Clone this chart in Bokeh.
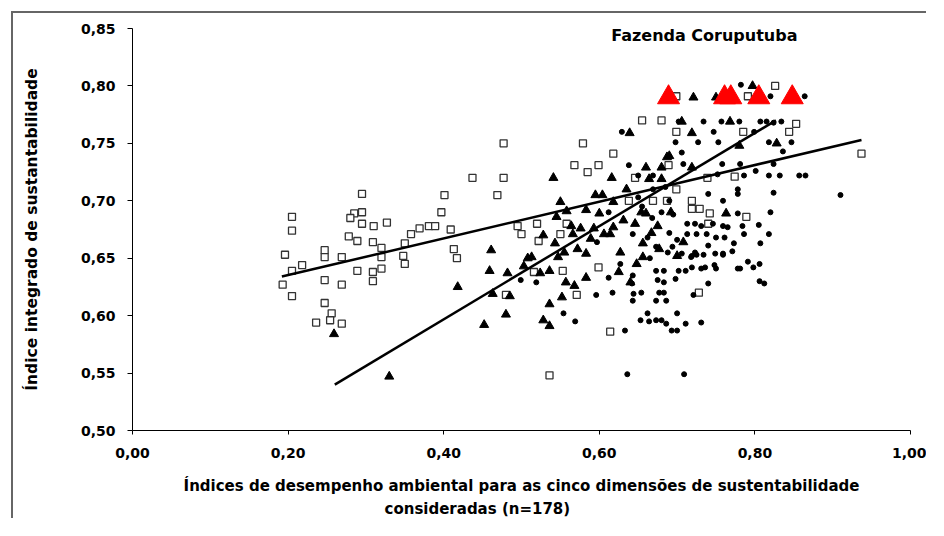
from bokeh.plotting import figure
from bokeh.models import Range1d, FixedTicker, CustomJSTickFormatter, Label, Title
from bokeh.embed import file_html
from bokeh.resources import INLINE

FONT = "DejaVu Sans"

title_text = "Fazenda Coruputuba"
x_label_1 = "Índices de desempenho ambiental para as cinco dimensões de sustentabilidade"
x_label_2 = "consideradas (n=178)"
y_label = "Índice integrado de sustantabilidade"
x_ticks = [0.0, 0.2, 0.4, 0.6, 0.8, 1.0]
y_ticks = [0.50, 0.55, 0.60, 0.65, 0.70, 0.75, 0.80, 0.85]

# open squares
square_x = [0.437, 0.295, 0.401, 0.205, 0.285, 0.295, 0.280, 0.397, 0.205, 0.295, 0.310, 0.327,
            0.278, 0.289, 0.309, 0.320, 0.320, 0.358, 0.369, 0.381, 0.389, 0.409, 0.350, 0.348,
            0.350, 0.413, 0.417, 0.196, 0.218, 0.205, 0.247, 0.247, 0.269, 0.193, 0.205, 0.247,
            0.269, 0.289, 0.309, 0.320, 0.309, 0.247, 0.256, 0.254, 0.236, 0.269,
            0.655, 0.680, 0.477, 0.579, 0.618, 0.477, 0.568, 0.585, 0.599, 0.469, 0.646, 0.638,
            0.669, 0.687, 0.495, 0.520, 0.500, 0.522, 0.558, 0.550,
            0.699, 0.826, 0.791, 0.699, 0.785, 0.853, 0.844, 0.937, 0.689, 0.739, 0.774, 0.699,
            0.719, 0.719, 0.729, 0.742, 0.740, 0.789,
            0.516, 0.553, 0.480, 0.571, 0.599, 0.614, 0.536, 0.728]
square_y = [0.720, 0.706, 0.705, 0.686, 0.689, 0.690, 0.685, 0.690, 0.674, 0.680, 0.678, 0.681,
            0.669, 0.665, 0.664, 0.659, 0.651, 0.671, 0.676, 0.678, 0.678, 0.675, 0.663, 0.652,
            0.645, 0.658, 0.650, 0.653, 0.644, 0.639, 0.657, 0.651, 0.651, 0.627, 0.617, 0.631,
            0.627, 0.639, 0.638, 0.641, 0.630, 0.611, 0.602, 0.596, 0.594, 0.593,
            0.770, 0.770, 0.750, 0.750, 0.741, 0.720, 0.731, 0.725, 0.731, 0.705, 0.720, 0.700,
            0.700, 0.700, 0.678, 0.680, 0.671, 0.665, 0.680, 0.671,
            0.791, 0.800, 0.791, 0.760, 0.760, 0.767, 0.760, 0.741, 0.731, 0.720, 0.721, 0.710,
            0.700, 0.693, 0.693, 0.689, 0.680, 0.686,
            0.638, 0.639, 0.618, 0.618, 0.642, 0.586, 0.548, 0.620]

# filled triangles
tri_x = [0.418, 0.259, 0.330,
         0.639, 0.541, 0.616, 0.660, 0.680, 0.687, 0.680, 0.664, 0.635, 0.595, 0.604, 0.618,
         0.550, 0.545, 0.558, 0.583, 0.600, 0.654, 0.660, 0.631, 0.646, 0.675, 0.564, 0.576,
         0.593, 0.566, 0.618, 0.614, 0.528, 0.543, 0.589, 0.606, 0.461, 0.513, 0.547, 0.572,
         0.627, 0.677, 0.656, 0.583, 0.555,
         0.721, 0.750, 0.797, 0.706, 0.768, 0.719, 0.828, 0.690, 0.719, 0.780, 0.763, 0.708,
         0.452, 0.480, 0.459, 0.482, 0.463, 0.485, 0.536, 0.552, 0.528, 0.536, 0.508, 0.503,
         0.524, 0.536, 0.557, 0.568, 0.583, 0.625, 0.640, 0.656,
         0.667, 0.692, 0.648, 0.700]
tri_y = [0.625, 0.584, 0.547,
         0.759, 0.720, 0.720, 0.729, 0.729, 0.738, 0.719, 0.719, 0.710, 0.705, 0.705, 0.699,
         0.699, 0.686, 0.691, 0.692, 0.689, 0.690, 0.689, 0.683, 0.680, 0.678, 0.678, 0.676,
         0.676, 0.671, 0.677, 0.671, 0.670, 0.663, 0.667, 0.671, 0.657, 0.651, 0.651, 0.658,
         0.655, 0.658, 0.663, 0.654, 0.655,
         0.790, 0.790, 0.800, 0.769, 0.769, 0.759, 0.750, 0.739, 0.729, 0.748, 0.689, 0.664,
         0.592, 0.601, 0.639, 0.637, 0.619, 0.617, 0.610, 0.616, 0.596, 0.591, 0.650, 0.643,
         0.637, 0.639, 0.629, 0.626, 0.633, 0.638, 0.629, 0.651,
         0.672, 0.690, 0.645, 0.652]

# small filled dots
dot_x = [0.629, 0.638, 0.650, 0.669, 0.669, 0.685, 0.650, 0.612, 0.643, 0.597,
         0.782, 0.820, 0.864, 0.702, 0.734, 0.757, 0.780, 0.807, 0.815, 0.834, 0.747, 0.799,
         0.824, 0.698, 0.727, 0.753, 0.818, 0.847, 0.836, 0.706, 0.708, 0.758, 0.781, 0.824,
         0.786, 0.818, 0.832, 0.857, 0.865, 0.801, 0.752, 0.910, 0.824, 0.778, 0.778, 0.690,
         0.740, 0.759, 0.820, 0.805, 0.818, 0.807, 0.778, 0.784, 0.786,
         0.713, 0.723, 0.731, 0.746, 0.759, 0.765, 0.713, 0.725, 0.738, 0.750, 0.761, 0.773,
         0.740, 0.723, 0.706, 0.694, 0.759,
         0.499, 0.519, 0.554, 0.569, 0.596, 0.617, 0.633, 0.636, 0.709, 0.644, 0.654, 0.643,
         0.662, 0.653, 0.664, 0.673, 0.680, 0.686, 0.693, 0.700, 0.700, 0.711, 0.673, 0.686,
         0.683, 0.677, 0.643, 0.642, 0.721,
         0.673, 0.683, 0.675, 0.683, 0.698, 0.702, 0.711, 0.719, 0.749, 0.719,
         0.731, 0.740, 0.791, 0.798, 0.806, 0.806, 0.812, 0.778, 0.781, 0.759, 0.771, 0.748,
         0.750, 0.731, 0.736, 0.725, 0.734, 0.718,
         0.655, 0.668, 0.680, 0.690, 0.662, 0.673, 0.695, 0.700, 0.688, 0.665, 0.612, 0.627]
dot_y = [0.760, 0.731, 0.722, 0.722, 0.710, 0.712, 0.703, 0.690, 0.671, 0.664,
         0.801, 0.791, 0.791, 0.769, 0.769, 0.769, 0.769, 0.769, 0.769, 0.769, 0.760, 0.760,
         0.768, 0.751, 0.751, 0.751, 0.751, 0.751, 0.743, 0.742, 0.732, 0.732, 0.732, 0.732,
         0.722, 0.722, 0.722, 0.722, 0.722, 0.726, 0.723, 0.705, 0.707, 0.710, 0.706, 0.700,
         0.706, 0.700, 0.690, 0.679, 0.671, 0.663, 0.689, 0.678, 0.671,
         0.680, 0.680, 0.678, 0.680, 0.678, 0.677, 0.671, 0.671, 0.671, 0.668, 0.668, 0.663,
         0.661, 0.655, 0.654, 0.660, 0.654,
         0.631, 0.629, 0.602, 0.595, 0.618, 0.620, 0.587, 0.549, 0.549, 0.619, 0.620, 0.613,
         0.602, 0.596, 0.595, 0.596, 0.596, 0.593, 0.587, 0.587, 0.602, 0.593, 0.613, 0.613,
         0.620, 0.620, 0.635, 0.628, 0.618,
         0.639, 0.639, 0.631, 0.629, 0.632, 0.639, 0.639, 0.642, 0.654, 0.652,
         0.594, 0.628, 0.647, 0.642, 0.645, 0.630, 0.628, 0.641, 0.641, 0.653, 0.656, 0.644,
         0.641, 0.641, 0.642, 0.653, 0.653, 0.651,
         0.695, 0.685, 0.690, 0.672, 0.668, 0.660, 0.688, 0.666, 0.655, 0.650, 0.633, 0.645]

# highlighted (red) triangles
red_x = [0.689, 0.761, 0.769, 0.805, 0.848]
red_y = [0.790, 0.790, 0.790, 0.790, 0.790]

# trend lines
fit1_x = [0.192, 0.937]
fit1_y = [0.634, 0.753]
fit2_x = [0.260, 0.827]
fit2_y = [0.540, 0.770]

p = figure(width=915, height=507, x_range=Range1d(0, 1), y_range=Range1d(0.5, 0.85),
           output_backend="svg", toolbar_location=None,
           min_border_left=119, min_border_right=18, min_border_top=15, min_border_bottom=90)
p.styles = {"margin-left": "11px", "margin-top": "11px",
            "border-left": "2px solid #666666", "border-top": "2px solid #666666"}
p.background_fill_color = "white"
p.border_fill_color = "white"
p.outline_line_color = None
p.xgrid.visible = False
p.ygrid.visible = False

fmt = CustomJSTickFormatter(code="return tick.toFixed(2).replace('.', ',');")
for ax, tks, tout, stand in ((p.xaxis[0], x_ticks, 4, 13), (p.yaxis[0], y_ticks, 5, 12)):
    ax.ticker = FixedTicker(ticks=tks)
    ax.formatter = fmt
    ax.major_tick_in = 0
    ax.major_tick_out = tout
    ax.minor_tick_in = 0
    ax.minor_tick_out = 0
    ax.axis_line_color = "black"
    ax.major_tick_line_color = "black"
    ax.major_label_text_font = FONT
    ax.major_label_text_font_style = "bold"
    ax.major_label_text_font_size = "14px"
    ax.major_label_text_color = "black"
    ax.major_label_standoff = stand
    ax.axis_label_text_font = FONT
    ax.axis_label_text_font_style = "bold"
    ax.axis_label_text_color = "black"

p.yaxis.axis_label = y_label
p.yaxis.axis_label_text_font_size = "15.5px"
p.yaxis.axis_label_standoff = 37

p.xaxis.axis_label = x_label_1
p.xaxis.axis_label_text_font_size = "15px"
p.xaxis.axis_label_standoff = 16

p.scatter(square_x, square_y, marker="square", size=7, fill_color="white",
          line_color="#333333", line_width=1.3)
p.scatter(tri_x, tri_y, marker="triangle", size=9, fill_color="black", line_color="black")
p.scatter(dot_x, dot_y, marker="circle", size=5, fill_color="black", line_color="black")
p.line(fit1_x, fit1_y, line_width=2.5, color="black")
p.line(fit2_x, fit2_y, line_width=2.5, color="black")
p.scatter(red_x, red_y, marker="triangle", size=22, fill_color="#ff0000", line_color="#ff0000")

p.add_layout(Label(x=0.735, y=0.8439, text=title_text, text_align="center", text_baseline="middle",
                   text_font=FONT, text_font_style="bold", text_font_size="16px", text_color="black"))

p.add_layout(Title(text=x_label_2, align="left", offset=252, standoff=0,
                   text_font=FONT, text_font_style="bold", text_font_size="15px",
                   text_color="black"), "below")

open("out.html", "w").write(file_html(p, INLINE))
